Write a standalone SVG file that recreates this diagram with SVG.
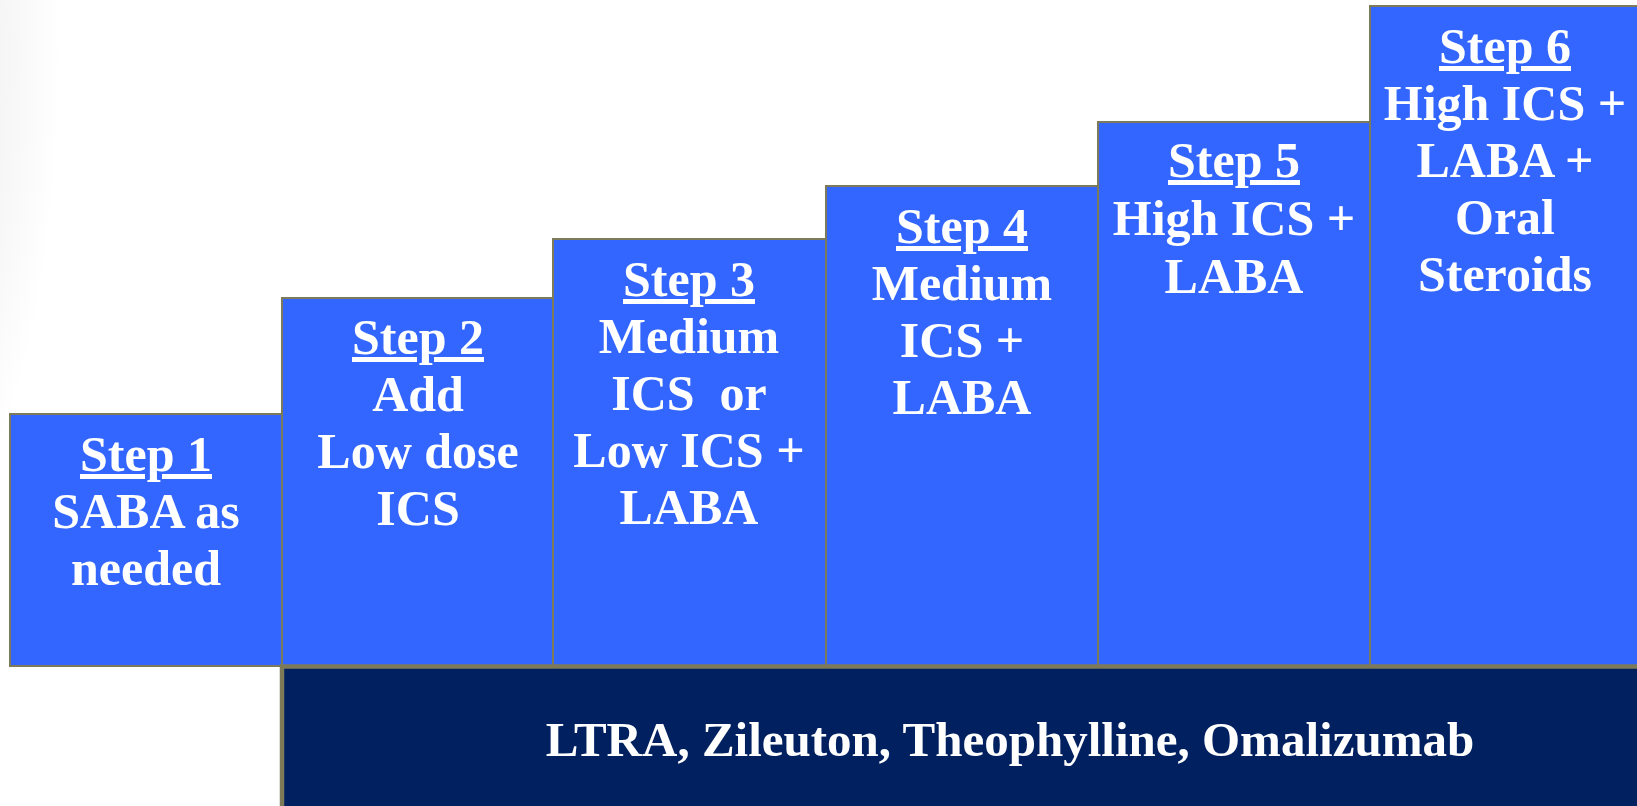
<svg xmlns="http://www.w3.org/2000/svg" width="1637" height="806" viewBox="0 0 1637 806">
<defs>
<radialGradient id="bg" cx="0" cy="0" r="1" gradientUnits="userSpaceOnUse" gradientTransform="translate(-120 60) scale(180 520)">
<stop offset="0" stop-color="#ececec"/>
<stop offset="0.7" stop-color="#f6f6f6"/>
<stop offset="1" stop-color="#ffffff"/>
</radialGradient>
<style>
.step{fill:#3366ff;stroke:#7d7a5a;stroke-width:2}
.bar{fill:#002060;stroke:#7d7a5a;stroke-width:4.5}
.t{font-family:"Liberation Serif","Times New Roman",serif;font-weight:bold;font-size:50px;fill:#ffffff;text-anchor:middle}
.u{text-decoration:underline}
.b{font-size:49px}
</style>
</defs>
<rect x="0" y="0" width="1637" height="806" fill="#ffffff"/>
<rect x="0" y="0" width="1637" height="806" fill="url(#bg)"/>
<g id="step1">
<rect class="step" x="10" y="414" width="272" height="252"/>
<text class="t" x="146" y="471"><tspan class="u">Step 1</tspan><tspan x="146" dy="57">SABA as</tspan><tspan x="146" dy="57">needed</tspan></text>
</g>
<g id="step2">
<rect class="step" x="282" y="298" width="271" height="368"/>
<text class="t" x="418" y="354"><tspan class="u">Step 2</tspan><tspan x="418" dy="57">Add</tspan><tspan x="418" dy="57">Low dose</tspan><tspan x="418" dy="57">ICS</tspan></text>
</g>
<g id="step3">
<rect class="step" x="553" y="239" width="273" height="427"/>
<text class="t" x="689" y="296"><tspan class="u">Step 3</tspan><tspan x="689" dy="57">Medium</tspan><tspan x="689" dy="57" xml:space="preserve">ICS  or</tspan><tspan x="689" dy="57">Low ICS +</tspan><tspan x="689" dy="57">LABA</tspan></text>
</g>
<g id="step4">
<rect class="step" x="826" y="186" width="272" height="480"/>
<text class="t" x="962" y="243"><tspan class="u">Step 4</tspan><tspan x="962" dy="57">Medium</tspan><tspan x="962" dy="57">ICS +</tspan><tspan x="962" dy="57">LABA</tspan></text>
</g>
<g id="step5">
<rect class="step" x="1098" y="122" width="272" height="544"/>
<text class="t" x="1234" y="177"><tspan class="u">Step 5</tspan><tspan x="1234" dy="58">High ICS +</tspan><tspan x="1234" dy="58">LABA</tspan></text>
</g>
<g id="step6">
<rect class="step" x="1370" y="6" width="280" height="660"/>
<text class="t" x="1505" y="63"><tspan class="u">Step 6</tspan><tspan x="1505" dy="57">High ICS +</tspan><tspan x="1505" dy="57">LABA +</tspan><tspan x="1505" dy="57">Oral</tspan><tspan x="1505" dy="57">Steroids</tspan></text>
</g>
<g id="addons">
<rect class="bar" x="282" y="666.5" width="1370" height="150"/>
<text class="t b" x="1010" y="756">LTRA, Zileuton, Theophylline, Omalizumab</text>
</g>
<g id="connectors"></g>
</svg>
